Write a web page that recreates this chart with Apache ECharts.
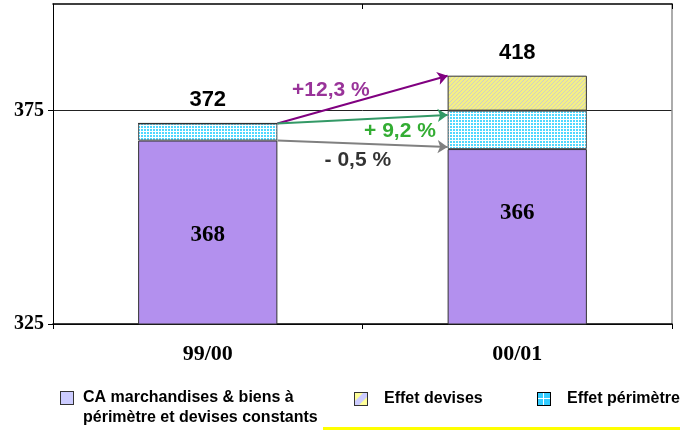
<!DOCTYPE html>
<html><head><meta charset="utf-8">
<script src="https://cdn.jsdelivr.net/npm/echarts@6/dist/echarts.min.js"></script>
<style>html,body{margin:0;padding:0;background:#fff}#c{width:680px;height:430px}</style>
</head><body><div id="c"></div>
<script>
// ---- data ----
const categories = ['99/00', '00/01'];
const baseValues = [368, 366];
const perimeterValues = [4, 9];
const currencyValues = [0, 8.2];
const totalLabels = ['372', '418'];
const yTickValues = [325, 375];
const arrowStartValues = [372, 372, 368];
const arrowEndValues = [383.2, 374, 366.5];
const arrowTexts = ['+12,3 %', '+ 9,2 %', '- 0,5 %'];
const seriesNames = ['CA marchandises & biens à\npérimètre et devises constants', 'Effet devises', 'Effet périmètre'];

// ---- styles ----
const barFrac = 0.45;
const arrowColors = ['#800080', '#339966', '#808080'];
const arrowTextColors = ['#800080', '#009900', '#000000'];
const arrowTextPos = [[0.898, 379.7], [1.121, 370.1], [0.985, 363.5]];
const baseLabelOffsets = [[0, 3], [0, -24]];
const serif = '"Liberation Serif", "Times New Roman", serif';
const sans = '"Liberation Sans", Arial, sans-serif';

function canvasOf(w, h, draw) {
  const c = document.createElement('canvas'); c.width = w; c.height = h;
  draw(c.getContext('2d')); return c;
}
const perimPattern = canvasOf(3, 3, g => {
  g.fillStyle = '#ffffff'; g.fillRect(0, 0, 3, 3);
  g.fillStyle = '#4fd8ff'; g.fillRect(0, 0, 2, 2);
});
const currPattern = canvasOf(4, 4, g => {
  g.fillStyle = '#f3ef86'; g.fillRect(0, 0, 4, 4);
  g.fillStyle = '#cfcfc4';
  for (let i = 0; i < 4; i++) g.fillRect(i, 3 - i, 1, 1);
});
// tall icon: square at the top, transparent below, so it lines up with the first text line
const icon1 = canvasOf(14, 34, g => {
  g.fillStyle = '#ccccff'; g.fillRect(0, 0, 14, 14);
  g.strokeStyle = '#333'; g.lineWidth = 1; g.strokeRect(0.5, 0.5, 13, 13);
});
const icon2 = canvasOf(14, 14, g => {
  g.fillStyle = '#ffff99'; g.fillRect(0, 0, 14, 14);
  g.fillStyle = '#ccccff';
  g.beginPath(); g.moveTo(0, 10); g.lineTo(10, 0); g.lineTo(14, 0); g.lineTo(14, 4); g.lineTo(4, 14); g.lineTo(0, 14); g.closePath(); g.fill();
  g.strokeStyle = '#333'; g.lineWidth = 1; g.strokeRect(0.5, 0.5, 13, 13);
});
const icon3 = canvasOf(14, 14, g => {
  g.fillStyle = '#33ccff'; g.fillRect(0, 0, 14, 14);
  g.fillStyle = '#ffffff'; g.fillRect(6, 0, 1, 14); g.fillRect(0, 6, 14, 1);
  g.strokeStyle = '#000'; g.lineWidth = 1; g.strokeRect(0.5, 0.5, 13, 13);
});

const chart = echarts.init(document.getElementById('c'), null, { renderer: 'canvas' });

const legendText = { fontFamily: sans, fontWeight: 'bold', fontSize: 16, color: '#000', lineHeight: 20 };

const arrowStartX = 0.5 + barFrac / 2;
const arrowEndX = 1.5 - barFrac / 2;

const option = {
  animation: false,
  backgroundColor: '#fff',
  grid: { left: 53, right: 8, top: 4, bottom: 106, outerBoundsMode: 'none' },
  legend: [
    { data: [{ name: seriesNames[0], icon: 'image://' + icon1.toDataURL() }], left: 60, top: 388, padding: 0, itemWidth: 14, itemHeight: 34,
      textStyle: Object.assign({ padding: [0, 0, 0, 4] }, legendText), selectedMode: false },
    { data: [{ name: seriesNames[1], icon: 'image://' + icon2.toDataURL() }], left: 354, top: 389, padding: 0, itemWidth: 14, itemHeight: 14,
      textStyle: Object.assign({ padding: [0, 0, 0, 11] }, legendText), selectedMode: false },
    { data: [{ name: seriesNames[2], icon: 'image://' + icon3.toDataURL() }], left: 537, top: 389, padding: 0, itemWidth: 14, itemHeight: 14,
      textStyle: Object.assign({ padding: [0, 0, 0, 11] }, legendText), selectedMode: false }
  ],
  xAxis: [
    { type: 'category', data: categories, position: 'bottom',
      axisLine: { lineStyle: { color: '#000', width: 1.5 } },
      axisTick: { show: true, length: 5, lineStyle: { color: '#000' } },
      axisLabel: { fontFamily: serif, fontWeight: 'bold', fontSize: 22, color: '#000', margin: 19 } },
    { type: 'category', data: categories, position: 'top',
      axisLine: { lineStyle: { color: '#000', width: 1.5 } },
      axisTick: { show: true, inside: true, length: 5, lineStyle: { color: '#000' } },
      axisLabel: { show: false } },
    { type: 'value', min: 0, max: 2, show: false }
  ],
  yAxis: [
    { type: 'value', min: 325, max: 400, interval: 25, position: 'left',
      axisLine: { show: true, lineStyle: { color: '#000', width: 1 } },
      axisTick: { show: true, length: 5, customValues: yTickValues, lineStyle: { color: '#000' } },
      axisLabel: { customValues: yTickValues, fontFamily: serif, fontWeight: 'bold', fontSize: 20, color: '#000', margin: 9 },
      splitLine: { show: true, lineStyle: { color: '#222', width: 1 } } },
    { type: 'value', min: 325, max: 400, position: 'right',
      axisLine: { show: true, lineStyle: { color: '#909090', width: 1.5 } },
      axisTick: { show: false }, axisLabel: { show: false }, splitLine: { show: false } }
  ],
  series: [
    { name: seriesNames[0], type: 'bar', stack: 'ca', barWidth: (barFrac * 100) + '%',
      data: baseValues.map((v, i) => ({ value: v, label: { offset: baseLabelOffsets[i] } })),
      itemStyle: { color: '#b390ee', borderColor: '#333', borderWidth: 1 },
      label: { show: true, position: 'inside', fontFamily: serif, fontWeight: 'bold', fontSize: 23, color: '#000' } },
    { name: seriesNames[2], type: 'bar', stack: 'ca',
      data: perimeterValues,
      itemStyle: { color: { image: perimPattern, repeat: 'repeat' }, borderColor: '#555', borderWidth: 1 } },
    { name: seriesNames[1], type: 'bar', stack: 'ca',
      data: currencyValues,
      itemStyle: { color: { image: currPattern, repeat: 'repeat' }, borderColor: '#333', borderWidth: 1 },
      label: { show: true, position: 'top', distance: 12, formatter: p => totalLabels[p.dataIndex],
        fontFamily: sans, fontWeight: 'bold', fontSize: 22, color: '#000' } },
    { type: 'lines', coordinateSystem: 'cartesian2d', xAxisIndex: 2, yAxisIndex: 0, silent: true,
      symbol: ['none', 'arrow'], symbolSize: 10, z: 5,
      data: arrowStartValues.map((s, i) => ({
        coords: [[arrowStartX, s], [arrowEndX, arrowEndValues[i]]],
        lineStyle: { color: arrowColors[i], width: 2, opacity: 1 }
      })) },
    { type: 'scatter', xAxisIndex: 2, yAxisIndex: 0, symbolSize: 0, silent: true, z: 6,
      data: arrowTexts.map((t, i) => ({ value: arrowTextPos[i], label: { formatter: t, color: arrowTextColors[i] } })),
      label: { show: true, position: 'inside', fontFamily: sans, fontWeight: 'bold', fontSize: 21 } }
  ],
  graphic: [
    { type: 'rect', shape: { x: 323, y: 427, width: 357, height: 3 }, style: { fill: '#ffff00' }, silent: true }
  ]
};
chart.setOption(option);
</script>
</body></html>
